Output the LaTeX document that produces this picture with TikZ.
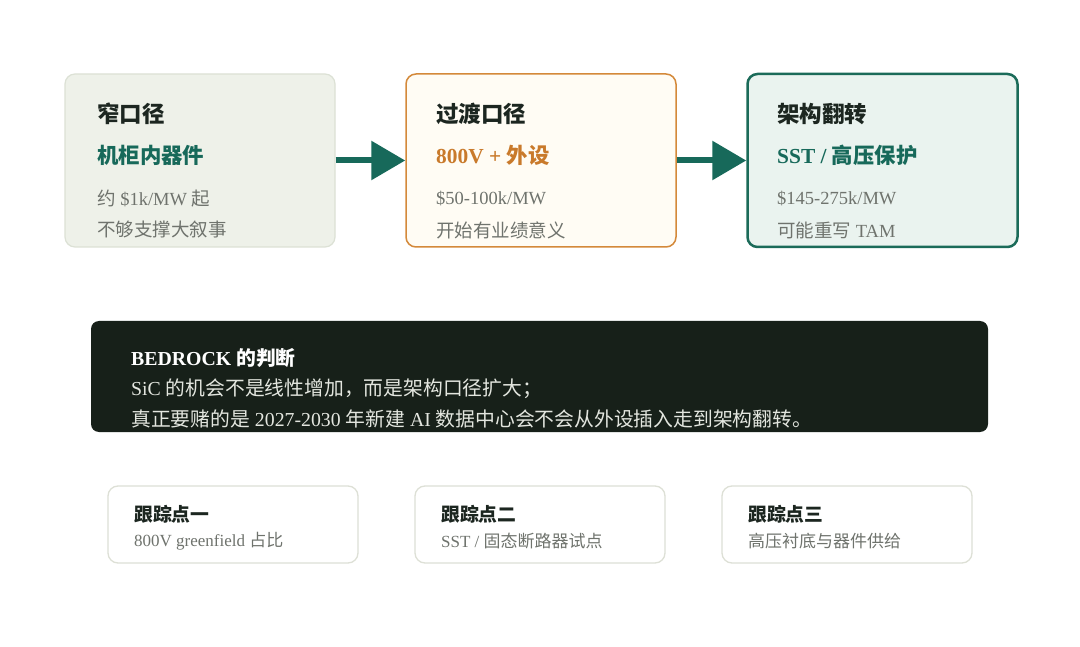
\documentclass[tikz,border=0pt]{standalone}
\usepackage{fontspec}
\setmainfont{Liberation Serif}
\newfontfamily\cjk{Noto Sans CJK SC}
% switch to the CJK family for Han characters and full-width punctuation
\XeTeXinterchartokenstate=1
\newXeTeXintercharclass\zhclass
\newcount\zhc
\zhc="4E00 \loop\XeTeXcharclass\zhc=\zhclass\ifnum\zhc<"9FFF\advance\zhc by 1\repeat
\zhc="3000 \loop\XeTeXcharclass\zhc=\zhclass\ifnum\zhc<"303F\advance\zhc by 1\repeat
\zhc="FF00 \loop\XeTeXcharclass\zhc=\zhclass\ifnum\zhc<"FFEF\advance\zhc by 1\repeat
\XeTeXinterchartoks 0 \zhclass = {\begingroup\cjk}
\XeTeXinterchartoks 4095 \zhclass = {\begingroup\cjk}
\XeTeXinterchartoks \zhclass 0 = {\endgroup}
\XeTeXinterchartoks \zhclass 4095 = {\endgroup}
\usepackage{tikz}
\usetikzlibrary{arrows.meta,positioning}
\definecolor{ink}{HTML}{1C2620}
\definecolor{leaf}{HTML}{17695A}
\definecolor{amber}{HTML}{C97A2B}
\definecolor{mute}{HTML}{6F736D}
\definecolor{cardA}{HTML}{EEF1E9}
\definecolor{cardAline}{HTML}{DCE1D5}
\definecolor{cardB}{HTML}{FFFCF4}
\definecolor{cardBline}{HTML}{D4893A}
\definecolor{cardC}{HTML}{EAF3EF}
\definecolor{cardCline}{HTML}{1B6B59}
\definecolor{night}{HTML}{172019}
\definecolor{nighttext}{HTML}{E3E6DF}
\definecolor{trackline}{HTML}{DDE0D6}

\begin{document}
\begin{tikzpicture}[x=1pt,y=-1pt,
 card/.style={rectangle,rounded corners=10pt,minimum width=270pt,minimum height=173pt,inner sep=0pt},
 cardtitle/.style={anchor=west,inner sep=0pt,text=ink,font=\fontsize{22.5}{26}\selectfont\bfseries},
 cardsub/.style={anchor=west,inner sep=0pt,font=\fontsize{21.4}{25}\selectfont\bfseries},
 cardtext/.style={anchor=west,inner sep=0pt,text=mute,font=\fontsize{18.5}{22}\selectfont},
 flow/.style={draw=leaf,line width=6pt,-{Triangle[length=34pt,width=38pt]}},
 track/.style={rectangle,rounded corners=10pt,draw=trackline,line width=1.3pt,fill=white,minimum width=250pt,minimum height=77pt,inner sep=0pt},
 tracktitle/.style={anchor=west,inner sep=0pt,text=ink,font=\fontsize{18.8}{22}\selectfont\bfseries},
 tracktext/.style={anchor=west,inner sep=0pt,text=mute,font=\fontsize{17}{20}\selectfont},
 verdicttext/.style={anchor=west,inner sep=0pt,text=nighttext,font=\fontsize{19.8}{23}\selectfont}]
\useasboundingbox[fill=white] (0,0) rectangle (1080,647);

% three stages
\node[card,fill=cardA,draw=cardAline,line width=1.2pt] (narrow) at (200,160.5) {};
\node[card,fill=cardB,draw=cardBline,line width=1.5pt] (transit) at (541,160.5) {};
\node[card,fill=cardC,draw=cardCline,line width=2.5pt] (flip) at (882.5,160.5) {};

\node[cardtitle] (narrowT) at (97,114) {窄口径};
\node[cardsub,text=leaf] (narrowS) at (97,155) {机柜内器件};
\node[cardtext] (narrowA) at (97,199) {约 \$1k/MW 起};
\node[cardtext] (narrowB) at (97,230) {不够支撑大叙事};

\node[cardtitle] (transitT) at (436,114) {过渡口径};
\node[cardsub,text=amber] (transitS) at (436,155) {800V + 外设};
\node[cardtext] (transitA) at (436,199) {\$50-100k/MW};
\node[cardtext] (transitB) at (436,230) {开始有业绩意义};

\node[cardtitle] (flipT) at (777,114) {架构翻转};
\node[cardsub,text=leaf] (flipS) at (777,155) {SST / 高压保护};
\node[cardtext] (flipA) at (777,199) {\$145-275k/MW};
\node[cardtext] (flipB) at (777,230) {可能重写 TAM};

\draw[flow] (narrow) -- (transit);
\draw[flow] (transit) -- (flip);

% verdict band
\node[rectangle,rounded corners=8pt,fill=night,minimum width=897pt,minimum height=111pt] (verdict) at (539.5,376.5) {};
\node[verdicttext,text=white,font=\fontsize{19.8}{23}\selectfont\bfseries] (verdictT) at (131,358) {BEDROCK 的判断};
\node[verdicttext] (verdictA) at (131,389) {SiC 的机会不是线性增加，而是架构口径扩大；};
\node[verdicttext] (verdictB) at (131,419) {真正要赌的是 2027-2030 年新建 AI 数据中心会不会从外设插入走到架构翻转。};

% tracking points
\node[track] (trackA) at (233,524.5) {};
\node[track] (trackB) at (540,524.5) {};
\node[track] (trackC) at (847,524.5) {};
\node[tracktitle] (trackAT) at (134,514) {跟踪点一};
\node[tracktext] (trackAS) at (134,541) {800V greenfield 占比};
\node[tracktitle] (trackBT) at (441,514) {跟踪点二};
\node[tracktext] (trackBS) at (441,541) {SST / 固态断路器试点};
\node[tracktitle] (trackCT) at (748,514) {跟踪点三};
\node[tracktext] (trackCS) at (748,541) {高压衬底与器件供给};
\end{tikzpicture}
\end{document}
